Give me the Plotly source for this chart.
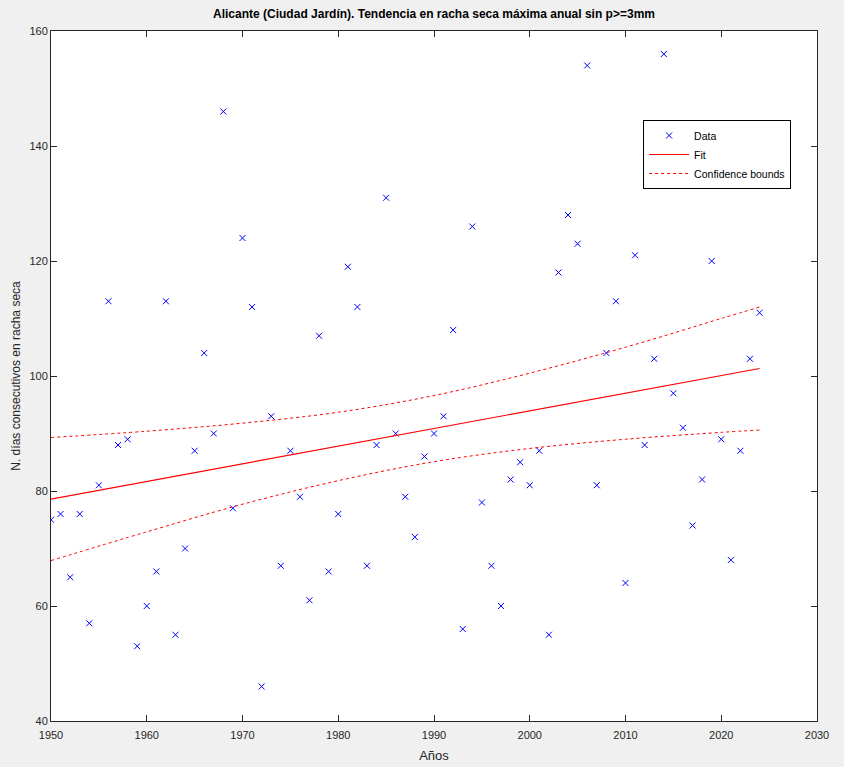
import plotly.graph_objects as go

# ---- data ----
years = list(range(1950, 2025))
dias = [75, 76, 65, 76, 57, 81, 113, 88, 89, 53,
        60, 66, 113, 55, 70, 87, 104, 90, 146, 77,
        124, 112, 46, 93, 67, 87, 79, 61, 107, 66,
        76, 119, 112, 67, 88, 131, 90, 79, 72, 86,
        90, 93, 108, 56, 126, 78, 67, 60, 82, 85,
        81, 87, 55, 118, 128, 123, 154, 81, 104, 113,
        64, 121, 88, 103, 156, 97, 91, 74, 82, 120,
        89, 68, 87, 103, 111]

fit_years = [1950, 2024]
fit_vals = [78.6, 101.3]

bound_years = [1950, 1960, 1970, 1980, 1990, 2000, 2010, 2020, 2024]
upper_vals = [89.3, 90.4, 91.8, 93.7, 96.6, 100.5, 105.0, 110.0, 112.0]
lower_vals = [67.9, 72.9, 77.7, 81.8, 85.1, 87.4, 89.0, 90.2, 90.6]

x_ticks = [1950, 1960, 1970, 1980, 1990, 2000, 2010, 2020, 2030]
y_ticks = [40, 60, 80, 100, 120, 140, 160]

title = "Alicante (Ciudad Jardín). Tendencia en racha seca máxima anual sin p>=3mm"

axis_col = "#262626"
font_fam = "Liberation Sans, Arial, sans-serif"

fig = go.Figure()
fig.add_trace(go.Scatter(
    x=years, y=dias, mode="markers", name="Data",
    marker=dict(symbol="x-thin", size=6, color="#0000ff",
                line=dict(color="#0000ff", width=1))))
fig.add_trace(go.Scatter(
    x=fit_years, y=fit_vals, mode="lines", name="Fit",
    line=dict(color="#ff0000", width=1.2)))
fig.add_trace(go.Scatter(
    x=bound_years, y=upper_vals, mode="lines", name="Confidence bounds",
    line=dict(color="#ff0000", width=1, dash="dot", shape="spline")))
fig.add_trace(go.Scatter(
    x=bound_years, y=lower_vals, mode="lines", name="Confidence bounds",
    showlegend=False,
    line=dict(color="#ff0000", width=1, dash="dot", shape="spline")))

common_axis = dict(
    showgrid=False, zeroline=False, showline=True, linecolor=axis_col,
    linewidth=1, mirror="ticks", ticks="inside", ticklen=6,
    tickcolor=axis_col, tickwidth=1, automargin=False,
    tickfont=dict(family=font_fam, size=11, color=axis_col),
)

fig.update_layout(
    width=844, height=767,
    paper_bgcolor="#f0f0f0", plot_bgcolor="#ffffff",
    margin=dict(l=51, r=27, t=31, b=46),
    font=dict(family=font_fam, size=11, color=axis_col),
    title=dict(text="<b>" + title + "</b>", x=(51 + 817) / 2 / 844,
               xanchor="center", y=1 - 14 / 767, yanchor="middle",
               font=dict(family=font_fam, size=12, color="#000000")),
    xaxis=dict(range=[1950, 2030], tickvals=x_ticks, ticklabelstandoff=4,
               title=dict(text="Años", standoff=10,
                          font=dict(family=font_fam, size=13, color=axis_col)),
               **common_axis),
    yaxis=dict(range=[40, 160], tickvals=y_ticks,
               title=dict(text="N. días consecutivos en racha seca", standoff=6,
                          font=dict(family=font_fam, size=12, color=axis_col)),
               **common_axis),
    legend=dict(x=0.773, y=0.871, xanchor="left", yanchor="top",
                bgcolor="#ffffff", bordercolor="#000000", borderwidth=1,
                font=dict(family=font_fam, size=10.5, color="#000000"),
                tracegroupgap=0, itemwidth=40),
    showlegend=True,
)

fig.write_html(
    "out.html",
    config={"displayModeBar": False},
    post_script="document.body.style.margin='0';document.body.style.background='#f0f0f0';",
)
